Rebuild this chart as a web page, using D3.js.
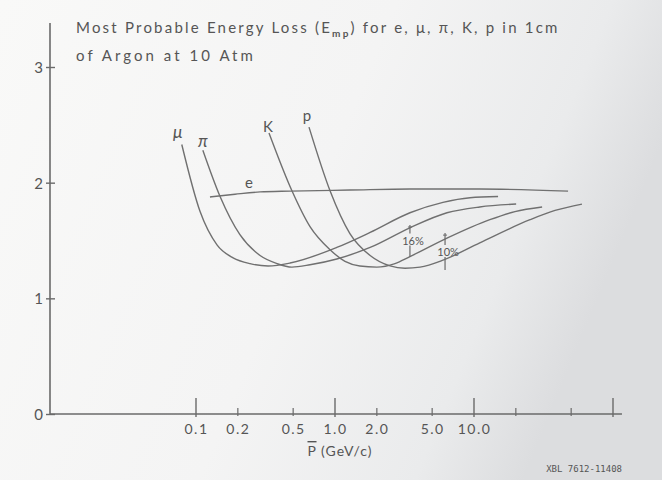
<!DOCTYPE html>
<html>
<head>
<meta charset="utf-8">
<script src="https://cdn.jsdelivr.net/npm/d3@7"></script>
<style>
  html, body { margin: 0; padding: 0; background: #f4f4f4; }
  svg { display: block; }
  text { font-family: "Lato", "Liberation Sans", sans-serif; fill: #555; }
</style>
</head>
<body>
<svg id="chart" width="662" height="480"></svg>
<script>
// momentum in GeV/c, most probable energy loss (arbitrary units as on the plot)
const muP  = [0.079, 0.107, 0.142, 0.185, 0.245, 0.33, 0.475, 1.03, 1.79, 3.46, 5.98, 9.36, 14.9];
const muE  = [2.33, 1.75, 1.46, 1.35, 1.30, 1.28, 1.305, 1.44, 1.57, 1.74, 1.83, 1.87, 1.88];
const piP  = [0.112, 0.149, 0.207, 0.289, 0.383, 0.49, 0.661, 1.03, 1.79, 3.46, 6.39, 11.0, 20.1];
const piE  = [2.28, 1.88, 1.55, 1.37, 1.30, 1.27, 1.29, 1.34, 1.44, 1.61, 1.74, 1.79, 1.815];
const kP   = [0.335, 0.49, 0.661, 0.921, 1.18, 1.51, 2.0, 2.7, 3.46, 6.39, 13.0, 19.7, 30.9];
const kE   = [2.43, 1.93, 1.62, 1.42, 1.32, 1.28, 1.27, 1.30, 1.36, 1.52, 1.68, 1.75, 1.79];
const prP  = [0.65, 0.921, 1.28, 1.79, 2.49, 3.19, 4.09, 5.98, 11.0, 25.3, 38.3, 59.8];
const prE  = [2.48, 1.93, 1.56, 1.37, 1.28, 1.26, 1.27, 1.33, 1.48, 1.68, 1.76, 1.815];
const eP   = [0.126, 0.191, 0.289, 0.475, 1.28, 3.46, 11.0, 47.5];
const eE   = [1.876, 1.90, 1.92, 1.927, 1.936, 1.945, 1.945, 1.927];

const curveNames  = ["\u03bc", "\u03c0", "K", "p", "e"];
const labelP      = [0.074, 0.112, 0.329, 0.629, 0.24];
const labelE      = [2.39, 2.31, 2.44, 2.53, 1.95];

const majorTicks  = [0.1, 1, 10, 100];
const minorTicks  = [0.2, 0.5, 2, 5, 20, 50];
const tickLabels  = ["0.1", "0.2", "0.5", "1.0", "2.0", "5.0", "10.0"];
const labelTicks  = [0.1, 0.2, 0.5, 1, 2, 5, 10];
const yTicks      = [0, 1, 2, 3];

// rise annotations: [p, E low, E high, text]
const riseP   = [3.46, 6.19];
const riseLo  = [1.357, 1.245];
const riseHi  = [1.634, 1.564];
const riseTxt = ["16%", "10%"];
const riseTxtE = [1.50, 1.40];

const svg = d3.select("#chart");
const W = 662, H = 480;

const defs = svg.append("defs");
const grad = defs.append("linearGradient").attr("id", "paper")
  .attr("x1", "0").attr("y1", "0").attr("x2", "1").attr("y2", "0.3");
grad.append("stop").attr("offset", "0%").attr("stop-color", "#f9f9f8");
grad.append("stop").attr("offset", "55%").attr("stop-color", "#f4f4f4");
grad.append("stop").attr("offset", "85%").attr("stop-color", "#eaebec");
grad.append("stop").attr("offset", "100%").attr("stop-color", "#dcdddf");
svg.append("rect").attr("width", W).attr("height", H).attr("fill", "url(#paper)");

const x = d3.scaleLog().domain([0.1, 100]).range([196, 613]);
const y = d3.scaleLinear().domain([0, 3]).range([414, 67]);
const x0 = 50;               // where the vertical axis stands
const xEnd = x(116);

const ink = "#6a6a6a";

// axes lines
svg.append("line").attr("x1", x0).attr("x2", x0).attr("y1", y(0)).attr("y2", y(3.38))
  .attr("stroke", ink).attr("stroke-width", 1.6);
svg.append("line").attr("x1", x0).attr("x2", xEnd).attr("y1", y(0)).attr("y2", y(0))
  .attr("stroke", ink).attr("stroke-width", 1.6);

// y axis ticks
const yAxis = svg.append("g").attr("transform", `translate(${x0},0)`)
  .call(d3.axisLeft(y).tickValues(yTicks).tickFormat(d3.format("d")).tickSize(4));
yAxis.select(".domain").remove();
yAxis.selectAll(".tick line").attr("x1", 5).attr("x2", -4).attr("stroke", ink).attr("stroke-width", 1.4);
yAxis.selectAll(".tick text").attr("x", -7).attr("dy", "0.36em")
  .style("font-size", "15px").style("font-family", "Lato, sans-serif").attr("fill", "#555");

// x axis ticks
const xAxis = svg.append("g").attr("transform", `translate(0,${y(0)})`);
const ax = xAxis.append("g")
  .call(d3.axisBottom(x).tickValues(labelTicks).tickFormat((d, i) => tickLabels[i]).tickSize(0).tickPadding(10));
ax.select(".domain").remove();
ax.selectAll(".tick text").style("font-size", "14px").style("font-family", "Lato, sans-serif")
  .attr("fill", "#555").attr("letter-spacing", "1.5px");
xAxis.selectAll("line.major").data(majorTicks).join("line").attr("class", "major")
  .attr("x1", d => x(d)).attr("x2", d => x(d)).attr("y1", -16).attr("y2", 3)
  .attr("stroke", ink).attr("stroke-width", 1.4);
xAxis.selectAll("line.minor").data(minorTicks).join("line").attr("class", "minor")
  .attr("x1", d => x(d)).attr("x2", d => x(d)).attr("y1", -6).attr("y2", 2)
  .attr("stroke", ink).attr("stroke-width", 1.2);

// curves
const line = d3.line().x(d => x(d[0])).y(d => y(d[1])).curve(d3.curveMonotoneX);
const series = [[muP, muE], [piP, piE], [kP, kE], [prP, prE], [eP, eE]];
svg.append("g").selectAll("path").data(series).join("path")
  .attr("d", s => line(d3.zip(s[0], s[1])))
  .attr("fill", "none").attr("stroke", "#707070").attr("stroke-width", 1.4);

svg.append("g").selectAll("text").data(curveNames).join("text")
  .attr("x", (d, i) => x(labelP[i])).attr("y", (d, i) => y(labelE[i]))
  .attr("text-anchor", "middle").style("font-size", (d, i) => i < 2 ? "17px" : "15px")
  .style("font-style", (d, i) => i < 2 ? "italic" : "normal")
  .text(d => d);

// relativistic rise markers
const rise = svg.append("g");
riseP.forEach((p, i) => {
  const px = x(p), ym = y(riseTxtE[i]);
  rise.append("line").attr("x1", px).attr("x2", px).attr("y1", y(riseHi[i])).attr("y2", ym - 7)
    .attr("stroke", ink).attr("stroke-width", 1.2);
  rise.append("line").attr("x1", px).attr("x2", px).attr("y1", ym + 5).attr("y2", y(riseLo[i]))
    .attr("stroke", ink).attr("stroke-width", 1.2);
  rise.append("line").attr("x1", px - 2).attr("x2", px + 2).attr("y1", y(riseHi[i]) + 2).attr("y2", y(riseHi[i]) + 2)
    .attr("stroke", ink).attr("stroke-width", 1);
  rise.append("text").attr("x", px + 3).attr("y", ym + 4).attr("text-anchor", "middle")
    .style("font-size", "11px").style("fill", "#555").text(riseTxt[i]);
});

// title
const t1 = svg.append("text").attr("x", 76).attr("y", 33).style("font-size", "15px");
t1.append("tspan").text("Most Probable Energy Loss (E");
t1.append("tspan").attr("dy", 4).style("font-size", "10px").style("font-weight", "bold").text("mp");
t1.append("tspan").attr("dy", -4).text(")  for  e, \u03bc, \u03c0, K, p  in 1cm");
const t2 = svg.append("text").attr("x", 76).attr("y", 61).style("font-size", "15px")
  .text("of Argon at 10 Atm");

function stretch(sel, target) {
  const n = sel.text().length;
  const len = sel.node().getComputedTextLength();
  sel.attr("letter-spacing", ((target - len) / n).toFixed(2) + "px");
}
stretch(t1, 490);
stretch(t2, 180);

// axis title
const xt = svg.append("text").attr("x", 340).attr("y", 456).attr("text-anchor", "middle")
  .style("font-size", "14px").attr("letter-spacing", "1px");
xt.append("tspan").style("text-decoration", "overline").text("P");
xt.append("tspan").text(" (GeV/c)");

svg.append("text").attr("x", 622).attr("y", 472).attr("text-anchor", "end")
  .style("font-size", "9px").style("font-family", "'DejaVu Sans Mono', monospace").attr("fill", "#666")
  .text("XBL 7612-11408");
</script>
</body>
</html>
